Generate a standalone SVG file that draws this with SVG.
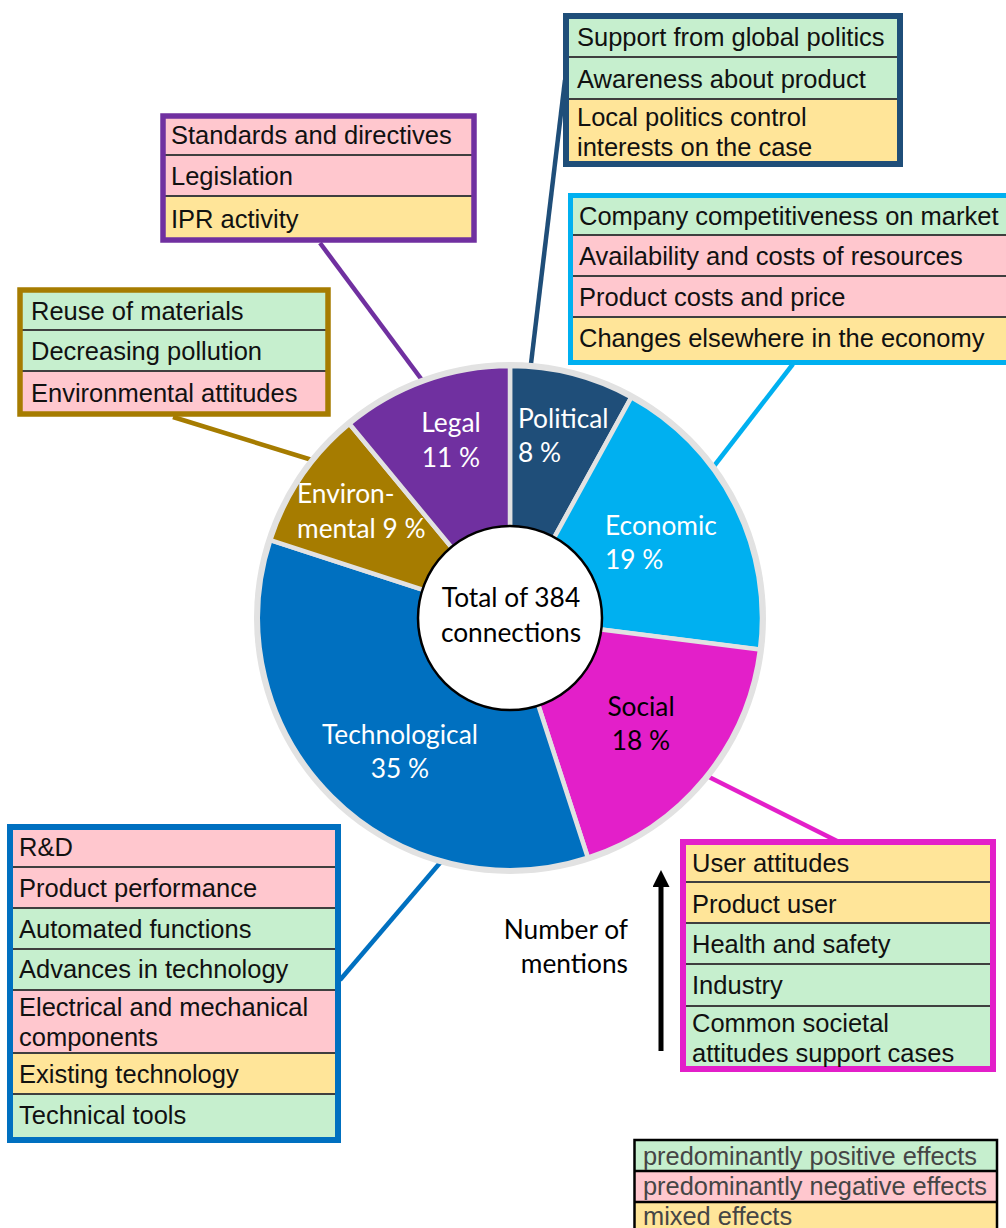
<svg xmlns="http://www.w3.org/2000/svg" width="1006" height="1228" viewBox="0 0 1006 1228">
<style>
.bt{font-family:"Liberation Sans",Arial,sans-serif;font-size:25.5px;fill:#111}
.lt{font-family:"Liberation Sans",Arial,sans-serif;font-size:25.4px;fill:#454545}
.pl{font-family:Lato,"Noto Sans",sans-serif;font-size:26.3px;fill:#fff}
.pd{font-family:Lato,"Noto Sans",sans-serif;font-size:26.3px;fill:#000}
.g{fill:#c6efce}.p{fill:#ffc7ce}.y{fill:#ffe599}
.sep{stroke:#3f3f3f;stroke-width:2}
.con{stroke-width:4.5;fill:none}
.slice{stroke:#e2e2e2;stroke-width:4.5}
</style>
<defs>
<marker id="ah" viewBox="0 0 10 10" refX="0" refY="5" markerWidth="3.4" markerHeight="3.4" orient="auto" markerUnits="strokeWidth">
<path d="M0,0 L10,5 L0,10 Z" fill="#000"/>
</marker>
</defs>
<rect width="1006" height="1228" fill="#fff"/>

<g id="connectors">
<line class="con" stroke="#7030a0" x1="320" y1="243" x2="422" y2="380"/>
<line class="con" stroke="#a67c00" x1="173" y1="417" x2="312" y2="460"/>
<line class="con" stroke="#1f4e79" x1="530" y1="372" x2="565" y2="80"/>
<line class="con" stroke="#00b0f0" x1="711" y1="470" x2="793" y2="364"/>
<line class="con" stroke="#e31fc9" x1="705" y1="775" x2="837" y2="841"/>
<line class="con" stroke="#0070c0" x1="340" y1="980" x2="445" y2="857"/>
</g>

<g id="pie">
<circle cx="510" cy="618" r="256" fill="#e2e2e2"/>
<path id="slice-political" class="slice" fill="#1f4e79" d="M510,618 L510,366 A252,252 0 0 1 631.4,397.2 Z"/>
<path id="slice-economic" class="slice" fill="#00b0f0" d="M510,618 L631.4,397.2 A252,252 0 0 1 760,649.6 Z"/>
<path id="slice-social" class="slice" fill="#e31fc9" d="M510,618 L760,649.6 A252,252 0 0 1 587.9,857.7 Z"/>
<path id="slice-technological" class="slice" fill="#0070c0" d="M510,618 L587.9,857.7 A252,252 0 0 1 270.3,540.1 Z"/>
<path id="slice-environmental" class="slice" fill="#a67c00" d="M510,618 L270.3,540.1 A252,252 0 0 1 349.4,423.8 Z"/>
<path id="slice-legal" class="slice" fill="#7030a0" d="M510,618 L349.4,423.8 A252,252 0 0 1 510,366 Z"/>
<text class="pl" x="451" y="432" text-anchor="middle">Legal</text>
<text class="pl" x="451" y="467" text-anchor="middle">11 %</text>
<text class="pl" x="518" y="428">Political</text>
<text class="pl" x="518" y="462">8 %</text>
<text class="pl" x="297" y="503">Environ-</text>
<text class="pl" x="297" y="538">mental 9 %</text>
<text class="pl" x="605" y="535">Economic</text>
<text class="pl" x="605" y="569">19 %</text>
<text class="pd" x="641" y="716" text-anchor="middle">Social</text>
<text class="pd" x="641" y="750" text-anchor="middle">18 %</text>
<text class="pl" x="400" y="744" text-anchor="middle">Technological</text>
<text class="pl" x="400" y="778" text-anchor="middle">35 %</text>
</g>

<g id="center">
<circle cx="510" cy="618" r="92" fill="#fff" stroke="#000" stroke-width="2.5"/>
<text class="pd" x="511" y="607" text-anchor="middle">Total of 384</text>
<text class="pd" x="511" y="642" text-anchor="middle">connections</text>
</g>

<g id="box-political">
<rect class="g" x="569" y="19" width="328" height="38"/>
<rect class="g" x="569" y="57" width="328" height="42"/>
<rect class="y" x="569" y="99" width="328" height="62"/>
<line class="sep" x1="569" y1="57" x2="897" y2="57"/>
<line class="sep" x1="569" y1="99" x2="897" y2="99"/>
<rect x="566" y="16" width="334" height="148" fill="none" stroke="#1f4e79" stroke-width="6"/>
<text class="bt" x="577" y="46">Support from global politics</text>
<text class="bt" x="577" y="88">Awareness about product</text>
<text class="bt" x="577" y="126">Local politics control</text>
<text class="bt" x="577" y="156">interests on the case</text>
</g>

<g id="box-economic">
<rect class="g" x="573" y="198" width="440" height="37"/>
<rect class="p" x="573" y="235" width="440" height="41"/>
<rect class="p" x="573" y="276" width="440" height="41"/>
<rect class="y" x="573" y="317" width="440" height="43"/>
<line class="sep" x1="573" y1="235" x2="1006" y2="235"/>
<line class="sep" x1="573" y1="276" x2="1006" y2="276"/>
<line class="sep" x1="573" y1="317" x2="1006" y2="317"/>
<rect x="570.5" y="195.5" width="460" height="167" fill="none" stroke="#00b0f0" stroke-width="5"/>
<text class="bt" x="579" y="225">Company competitiveness on market</text>
<text class="bt" x="579" y="265">Availability and costs of resources</text>
<text class="bt" x="579" y="306">Product costs and price</text>
<text class="bt" x="579" y="347">Changes elsewhere in the economy</text>
</g>

<g id="box-legal">
<rect class="p" x="165" y="118" width="307" height="37"/>
<rect class="p" x="165" y="155" width="307" height="41"/>
<rect class="y" x="165" y="196" width="307" height="42"/>
<line class="sep" x1="165" y1="155" x2="472" y2="155"/>
<line class="sep" x1="165" y1="196" x2="472" y2="196"/>
<rect x="163" y="116" width="311" height="124" fill="none" stroke="#7030a0" stroke-width="5.5"/>
<text class="bt" x="171" y="144">Standards and directives</text>
<text class="bt" x="171" y="185">Legislation</text>
<text class="bt" x="171" y="228">IPR activity</text>
</g>

<g id="box-environmental">
<rect class="g" x="22" y="292" width="304" height="38"/>
<rect class="g" x="22" y="330" width="304" height="41"/>
<rect class="p" x="22" y="371" width="304" height="41"/>
<line class="sep" x1="22" y1="330" x2="326" y2="330"/>
<line class="sep" x1="22" y1="371" x2="326" y2="371"/>
<rect x="20" y="290" width="308" height="124" fill="none" stroke="#a67c00" stroke-width="5.5"/>
<text class="bt" x="31" y="320">Reuse of materials</text>
<text class="bt" x="31" y="360">Decreasing pollution</text>
<text class="bt" x="31" y="402">Environmental attitudes</text>
</g>

<g id="box-technological">
<rect class="p" x="13" y="830" width="323" height="37"/>
<rect class="p" x="13" y="867" width="323" height="41"/>
<rect class="g" x="13" y="908" width="323" height="41"/>
<rect class="g" x="13" y="949" width="323" height="41"/>
<rect class="p" x="13" y="990" width="323" height="63"/>
<rect class="y" x="13" y="1053" width="323" height="41"/>
<rect class="g" x="13" y="1094" width="323" height="43"/>
<line class="sep" x1="13" y1="867" x2="336" y2="867"/>
<line class="sep" x1="13" y1="908" x2="336" y2="908"/>
<line class="sep" x1="13" y1="949" x2="336" y2="949"/>
<line class="sep" x1="13" y1="990" x2="336" y2="990"/>
<line class="sep" x1="13" y1="1053" x2="336" y2="1053"/>
<line class="sep" x1="13" y1="1094" x2="336" y2="1094"/>
<rect x="10" y="827" width="328" height="313" fill="none" stroke="#0070c0" stroke-width="6"/>
<text class="bt" x="19" y="856">R&amp;D</text>
<text class="bt" x="19" y="897">Product performance</text>
<text class="bt" x="19" y="938">Automated functions</text>
<text class="bt" x="19" y="978">Advances in technology</text>
<text class="bt" x="19" y="1016">Electrical and mechanical</text>
<text class="bt" x="19" y="1046">components</text>
<text class="bt" x="19" y="1083">Existing technology</text>
<text class="bt" x="19" y="1124">Technical tools</text>
</g>

<g id="box-social">
<rect class="y" x="686" y="845" width="304" height="37"/>
<rect class="y" x="686" y="882" width="304" height="41"/>
<rect class="g" x="686" y="923" width="304" height="41"/>
<rect class="g" x="686" y="964" width="304" height="42"/>
<rect class="g" x="686" y="1006" width="304" height="60"/>
<line class="sep" x1="686" y1="882" x2="990" y2="882"/>
<line class="sep" x1="686" y1="923" x2="990" y2="923"/>
<line class="sep" x1="686" y1="964" x2="990" y2="964"/>
<line class="sep" x1="686" y1="1006" x2="990" y2="1006"/>
<rect x="683" y="842" width="310" height="227" fill="none" stroke="#e31fc9" stroke-width="6"/>
<text class="bt" x="692" y="872">User attitudes</text>
<text class="bt" x="692" y="913">Product user</text>
<text class="bt" x="692" y="953">Health and safety</text>
<text class="bt" x="692" y="994">Industry</text>
<text class="bt" x="692" y="1032">Common societal</text>
<text class="bt" x="692" y="1062">attitudes support cases</text>
</g>

<g id="mentions-arrow">
<line x1="661" y1="1051" x2="661" y2="887" stroke="#000" stroke-width="5" marker-end="url(#ah)"/>
<text class="pd" x="628" y="939" text-anchor="end">Number of</text>
<text class="pd" x="628" y="973" text-anchor="end">mentions</text>
</g>

<g id="legend">
<rect class="g" x="635" y="1141" width="362" height="30"/>
<rect class="p" x="635" y="1171" width="362" height="31"/>
<rect class="y" x="635" y="1202" width="362" height="30"/>
<line x1="635" y1="1171" x2="997" y2="1171" stroke="#000" stroke-width="2.5"/>
<line x1="635" y1="1202" x2="997" y2="1202" stroke="#000" stroke-width="2.5"/>
<rect x="634.5" y="1140" width="362.5" height="100" fill="none" stroke="#000" stroke-width="2.5"/>
<text class="lt" x="643" y="1165">predominantly positive effects</text>
<text class="lt" x="643" y="1195">predominantly negative effects</text>
<text class="lt" x="643" y="1225">mixed effects</text>
</g>
</svg>
